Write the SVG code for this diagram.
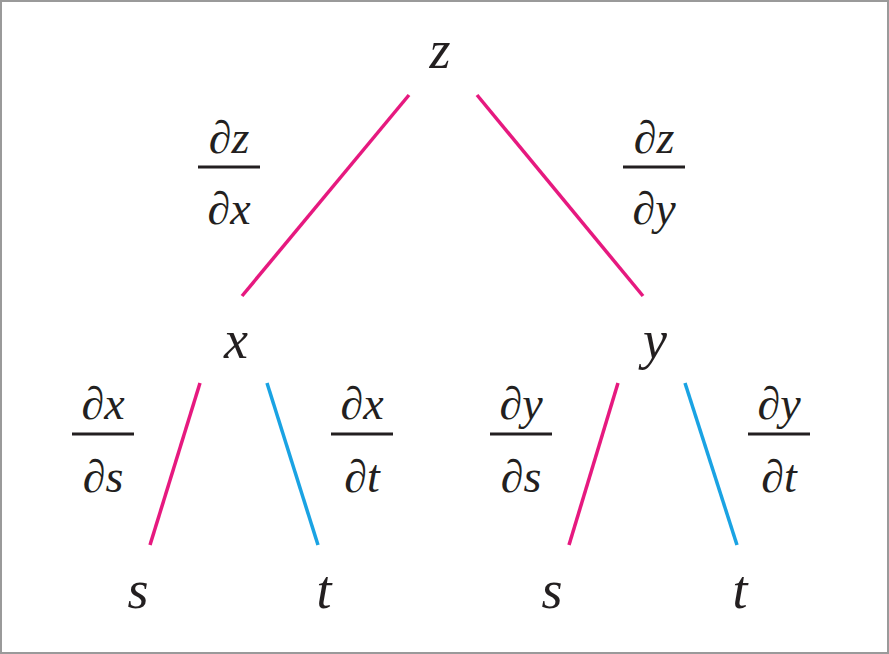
<svg xmlns="http://www.w3.org/2000/svg" width="889" height="654" viewBox="0 0 889 654">
<style>
.v{font-family:"Liberation Serif","Times New Roman","DejaVu Serif",serif;font-style:italic;font-size:54px;fill:#231f20;text-anchor:middle}
.f{font-family:"Liberation Serif","Times New Roman","DejaVu Serif",serif;font-style:italic;font-size:46px;fill:#231f20;text-anchor:middle}
.m{stroke:#e6197f;stroke-width:3.5}
.b{stroke:#1aa3e3;stroke-width:3.5}
.bar{stroke:#231f20;stroke-width:3}
</style>
<rect x="1" y="1" width="887" height="652" fill="#fff" stroke="#9a9a9a" stroke-width="2"/>
<g id="connectors">
<line class="m" x1="409" y1="95" x2="242" y2="296"/>
<line class="m" x1="477" y1="95" x2="643" y2="296"/>
<line class="m" x1="200" y1="383" x2="150" y2="545"/>
<line class="b" x1="267" y1="383" x2="318" y2="545"/>
<line class="m" x1="618" y1="383" x2="569" y2="545"/>
<line class="b" x1="685" y1="383" x2="737" y2="545"/>
</g>
<g id="node-z"><text class="v" x="440" y="68">z</text></g>
<g id="node-x"><text class="v" x="236" y="358">x</text></g>
<g id="node-y"><text class="v" x="655" y="358">y</text></g>
<g id="node-s1"><text class="v" x="138" y="608">s</text></g>
<g id="node-t1"><text class="v" x="324" y="608">t</text></g>
<g id="node-s2"><text class="v" x="552" y="608">s</text></g>
<g id="node-t2"><text class="v" x="740" y="608">t</text></g>
<g id="label-dzdx"><text class="f" x="229" y="153">∂z</text><line class="bar" x1="198" y1="167" x2="260" y2="167"/><text class="f" x="229" y="224">∂x</text></g>
<g id="label-dzdy"><text class="f" x="654" y="153">∂z</text><line class="bar" x1="623" y1="167" x2="685" y2="167"/><text class="f" x="654" y="224">∂y</text></g>
<g id="label-dxds"><text class="f" x="103" y="419">∂x</text><line class="bar" x1="72" y1="434" x2="134" y2="434"/><text class="f" x="103" y="492">∂s</text></g>
<g id="label-dxdt"><text class="f" x="362" y="419">∂x</text><line class="bar" x1="331" y1="434" x2="393" y2="434"/><text class="f" x="362" y="492">∂t</text></g>
<g id="label-dyds"><text class="f" x="521" y="419">∂y</text><line class="bar" x1="490" y1="434" x2="552" y2="434"/><text class="f" x="521" y="492">∂s</text></g>
<g id="label-dydt"><text class="f" x="779" y="419">∂y</text><line class="bar" x1="748" y1="434" x2="810" y2="434"/><text class="f" x="779" y="492">∂t</text></g>
</svg>
